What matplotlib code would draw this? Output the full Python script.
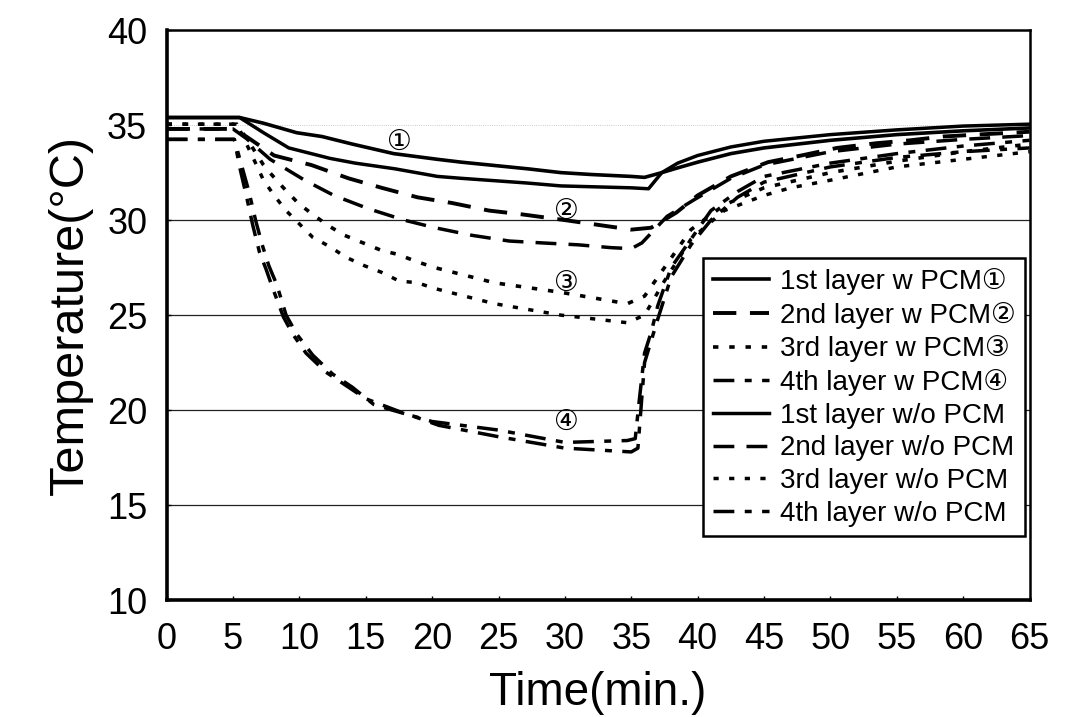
import matplotlib
matplotlib.use("Agg")
import matplotlib.pyplot as plt

plt.rcParams["font.family"] = ["Liberation Sans", "DejaVu Sans"]

# 1st layer (solid)
t_l1_pcm = [0, 5.5, 7.3, 9.8, 11.7, 14, 17.1, 20.4, 22.2, 27.2, 29.7, 32, 35, 36,
            37.3, 38.5, 40, 42.5, 45, 50, 55, 60, 65]
T_l1_pcm = [35.4, 35.4, 35.1, 34.6, 34.4, 34.0, 33.5, 33.2, 33.05, 32.7, 32.5, 32.4, 32.3, 32.25,
            32.5, 32.75, 33.05, 33.5, 33.8, 34.2, 34.5, 34.7, 34.85]
t_l1_no = [0, 5.5, 7.3, 9.2, 12.3, 14.2, 17.2, 20.4, 22.2, 27.2, 29.7, 35, 36.3,
           37.3, 38.5, 40, 42.5, 45, 50, 55, 60, 65]
T_l1_no = [35.4, 35.4, 34.6, 33.8, 33.25, 33.0, 32.7, 32.3, 32.2, 31.95, 31.8, 31.7, 31.65,
           32.5, 33.0, 33.4, 33.85, 34.15, 34.5, 34.75, 34.95, 35.05]

# 2nd layer (dashed)
t_l2_pcm = [0, 5, 6, 8.1, 10.9, 13.7, 16.2, 18.9, 21.5, 24.3, 26.8, 30, 33, 35, 36.5,
            38.4, 40, 42.5, 45.3, 47.8, 50.5, 53.5, 56, 58.5, 61, 65]
T_l2_pcm = [34.8, 34.8, 34.4, 33.4, 32.9, 32.2, 31.7, 31.2, 30.9, 30.5, 30.3, 30.0, 29.7, 29.5, 29.6,
            30.4, 31.3, 32.3, 33.05, 33.4, 33.8, 34.05, 34.2, 34.4, 34.5, 34.65]
t_l2_no = [0, 5, 6, 7.8, 10.4, 12.6, 15.2, 17.9, 20.2, 23, 25.8, 28.3, 31, 33.5, 35, 35.8,
           37.7, 39.8, 42.5, 45, 50, 55, 60, 65]
T_l2_no = [34.8, 34.8, 34.3, 33.2, 32.1, 31.3, 30.6, 30.0, 29.6, 29.2, 28.9, 28.8, 28.7, 28.55, 28.5, 28.8,
           30.2, 31.1, 32.2, 32.9, 33.6, 34.0, 34.25, 34.45]

# 3rd layer (dotted)
t_l3_pcm = [0, 5.3, 6.3, 7.3, 7.9, 8.8, 9.9, 11, 12.2, 13.4, 14.8, 16.2, 17.4, 18.9, 20.2,
            24.7, 29.7, 34.7, 36, 37.5, 39.5, 42, 45, 50, 55, 60, 65]
T_l3_pcm = [35.05, 35.05, 34.0, 32.9, 32.4, 31.7, 30.9, 30.3, 29.7, 29.2, 28.8, 28.4, 28.2, 27.8, 27.5,
            26.7, 26.2, 25.6, 26.0, 27.5, 29.5, 30.8, 31.7, 32.5, 33.1, 33.6, 34.0]
t_l3_no = [0, 5.3, 6.5, 7.3, 8.1, 9, 10, 11, 12.3, 13.5, 14.9, 16.2, 17.5, 18.9, 20.2,
           24.7, 29.7, 34.7, 36, 37.5, 39.5, 42, 45, 47, 50, 55, 60, 65]
T_l3_no = [35.05, 35.05, 33.3, 32.1, 31.3, 30.5, 29.8, 29.1, 28.6, 28.05, 27.6, 27.25, 26.8, 26.7, 26.4,
           25.6, 25.0, 24.6, 25.0, 26.8, 29.0, 30.5, 31.3, 31.7, 32.1, 32.8, 33.2, 33.6]

# 4th layer (dash-dot)
t_l4_pcm = [0, 5.1, 5.5, 6, 6.5, 7, 7.5, 8, 8.8, 9.5, 10.5, 12, 13.5, 15, 16.5, 18, 20, 25, 30,
            34.7, 35.3, 35.6, 36, 36.5, 37, 38, 39.5, 41, 43, 45, 50, 55, 60, 65]
T_l4_pcm = [34.25, 34.25, 32.8, 31.3, 29.7, 28.3, 27.4, 26.4, 24.9, 24.0, 23.0, 22.0, 21.3, 20.6, 20.2,
            19.8, 19.4, 18.95, 18.3, 18.4, 18.5, 20.5, 23.0, 24.1, 25.5, 27.5, 29.0, 30.5, 31.5, 32.3,
            33.0, 33.5, 33.9, 34.2]
t_l4_no = [0, 5.1, 5.6, 6.2, 6.7, 7.2, 7.7, 8.3, 9, 9.8, 11, 12.5, 14, 15.6, 17, 18.5, 20.5, 25, 30,
           35, 35.5, 36, 37, 38, 39.5, 41, 43, 45, 50, 55, 60, 65]
T_l4_no = [34.25, 34.25, 33.0, 31.5, 30.0, 28.7, 27.6, 26.6, 25.0, 24.0, 22.9, 21.9, 21.2, 20.3, 20.0,
           19.7, 19.2, 18.6, 18.0, 17.8, 18.0, 22.5, 24.8, 27.0, 28.7, 30.0, 31.2, 32.0, 32.8, 33.3,
           33.6, 33.8]

labels = ["1st layer w PCM\u2460", "2nd layer w PCM\u2461", "3rd layer w PCM\u2462",
          "4th layer w PCM\u2463", "1st layer w/o PCM", "2nd layer w/o PCM",
          "3rd layer w/o PCM", "4th layer w/o PCM"]

# circled markers placed next to the w PCM curves
marks = ["\u2460", "\u2461", "\u2462", "\u2463"]
mark_t = [17.5, 30.1, 30.1, 30.1]
mark_T = [34.1, 30.5, 26.7, 19.4]

series = [
    (t_l1_pcm, T_l1_pcm, dict(linestyle="-", lw=2.6)),
    (t_l2_pcm, T_l2_pcm, dict(dashes=(6, 3.5), lw=2.8)),
    (t_l3_pcm, T_l3_pcm, dict(dashes=(1.5, 3.0), lw=2.6)),
    (t_l4_pcm, T_l4_pcm, dict(dashes=(6, 3, 2, 3), lw=2.5)),
    (t_l1_no, T_l1_no, dict(linestyle="-", lw=2.5)),
    (t_l2_no, T_l2_no, dict(dashes=(6, 3.5), lw=2.5)),
    (t_l3_no, T_l3_no, dict(dashes=(1.5, 3.0), lw=2.5)),
    (t_l4_no, T_l4_no, dict(dashes=(6, 3, 2, 3), lw=2.5)),
]

fig = plt.figure(figsize=(10.68, 7.17), dpi=100)
ax = fig.add_axes([0.156, 0.163, 0.808, 0.795])

for y in [15, 20, 25, 30]:
    ax.axhline(y, color="#222222", lw=0.9, zorder=1)
ax.axhline(35, color="#bbbbbb", lw=0.6, linestyle=":", zorder=1)

for (t, T, style), lab in zip(series, labels):
    ax.plot(t, T, color="black", label=lab, zorder=3, **style)

for m, x, y in zip(marks, mark_t, mark_T):
    ax.text(x, y, m, fontsize=20, ha="center", va="center",
            family=["DejaVu Sans"], zorder=4)

ax.set_xlim(0, 65)
ax.set_ylim(10, 40)
ax.set_xticks(range(0, 66, 5))
ax.set_yticks(range(10, 41, 5))
ax.tick_params(axis="both", labelsize=26, direction="in", length=3, width=1)
ax.tick_params(axis="x", pad=16)
ax.tick_params(axis="y", pad=14)
for s in ax.spines.values():
    s.set_linewidth(1.8)
ax.spines["left"].set_linewidth(2.6)
ax.spines["bottom"].set_linewidth(2.6)

ax.set_xlabel("Time(min.)", fontsize=33, labelpad=10)
ax.set_ylabel("Temperature(\u00b0C)", fontsize=35, labelpad=10)

leg = ax.legend(loc="lower right", bbox_to_anchor=(0.995, 0.112), fontsize=20,
                frameon=True, fancybox=False, handlelength=2.0, handletextpad=0.4,
                labelspacing=0.24, borderpad=0.35, borderaxespad=0)
leg.get_frame().set_edgecolor("black")
leg.get_frame().set_linewidth(1.8)
leg.get_frame().set_alpha(1)

fig.savefig("out.png", dpi=100)
